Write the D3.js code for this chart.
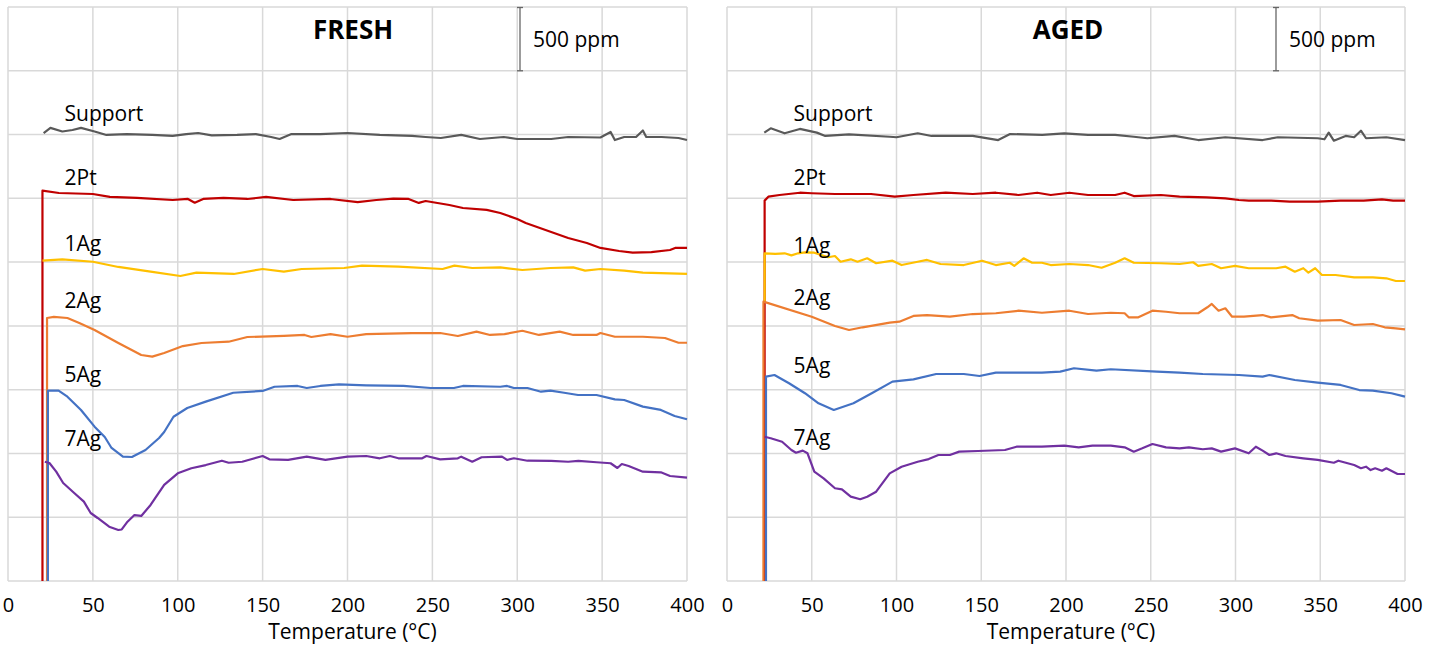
<!DOCTYPE html>
<html><head><meta charset="utf-8">
<script src="https://cdn.jsdelivr.net/npm/d3@7"></script>
<style>body{margin:0;background:#fff;} svg{display:block;font-family:"Open Sans",sans-serif;}</style>
</head><body><svg id="chart" width="1442" height="649"></svg>
<script>
// ---------------- DATA ----------------
const seriesNames = ["Support", "2Pt", "1Ag", "2Ag", "5Ag", "7Ag"];
const seriesColors = ["#595959", "#C00000", "#FFC000", "#ED7D31", "#4472C4", "#7030A0"];
const xTicks = [0, 50, 100, 150, 200, 250, 300, 350, 400];
const yGridStep = 500; // ppm between horizontal gridlines
const yMax = 4500;
const panelTitles = ["FRESH", "AGED"];
const scaleBarLabel = "500 ppm";
const xAxisTitle = "Temperature (°C)";

// FRESH panel: [temperature °C, signal ppm (stacked offset)]
const freshSupport = [[21,3512],[25,3552],[32,3524],[38,3536],[43,3552],[51,3524],[58,3497],[70,3504],[85,3497],[97,3489],[105,3504],[112,3512],[120,3493],[135,3497],[146,3504],[155,3481],[160,3465],[167,3504],[184,3504],[200,3512],[219,3497],[238,3489],[246,3481],[255,3473],[267,3497],[278,3465],[292,3481],[300,3465],[320,3465],[330,3481],[349,3477],[355,3520],[357.5,3457],[363,3481],[370,3481],[374,3532],[376,3481],[385,3481],[395,3473],[400,3457]];
const fresh2Pt = [[20.3,0],[20.3,3060],[30,3042],[50,3034],[60,3011],[76,3003],[97,2987],[106,2995],[110,2966],[115,2995],[127,3003],[141,2995],[152,3011],[168,2987],[190,2995],[206,2971],[217,2987],[227,2997],[236,2995],[242,2964],[246,2979],[260,2948],[268,2924],[282,2909],[290,2885],[300,2838],[305,2807],[320,2736],[330,2689],[341,2650],[349,2611],[360,2587],[368,2574],[379,2579],[390,2595],[393,2611],[400,2611]];
const fresh1Ag = [[20.3,2511],[32,2522],[50,2503],[65,2462],[84,2425],[101.5,2391],[111,2417],[133,2407],[150,2446],[162.5,2425],[173,2446],[198,2454],[208.5,2472],[230,2464],[256,2446],[263,2472],[273.5,2454],[290,2459],[303,2438],[319.6,2454],[333,2459],[340,2433],[349,2446],[363,2433],[374,2417],[400,2407]];
const fresh2Ag = [[23,0],[23,2062],[27,2070],[35,2062],[42,2023],[51,1968],[65,1866],[78.5,1772],[85,1759],[92,1788],[103,1842],[114,1866],[130,1876],[141,1913],[162.5,1921],[174.7,1929],[178.7,1913],[190,1936],[200,1915],[211,1936],[238,1944],[254.6,1944],[265,1921],[276,1955],[284,1929],[292.5,1936],[303,1962],[312.8,1929],[325,1955],[333,1929],[346.7,1929],[349,1944],[357.5,1915],[374,1915],[387,1905],[395,1868],[400,1868]];
const fresh5Ag = [[23.5,0],[23.5,1492],[29.8,1492],[35,1445],[43,1341],[51,1210],[57,1129],[61,1043],[67.7,975],[73,972],[81,1027],[89,1121],[92,1168],[97.5,1288],[105.6,1356],[116.5,1406],[132.7,1476],[150,1490],[157,1523],[170.6,1529],[176,1513],[184,1529],[195,1542],[211,1534],[233,1529],[249,1513],[262.7,1513],[268,1529],[290,1523],[294,1529],[298,1513],[306,1513],[314,1484],[319.6,1492],[327.6,1476],[335.8,1458],[346.7,1458],[357.5,1424],[363,1419],[374,1367],[384.6,1341],[392.7,1294],[400,1268]];
const fresh7Ag = [[21.7,935],[24.4,925],[28.4,857],[32.5,768],[39,690],[44.7,622],[48.7,533],[52.8,494],[59.6,426],[65,400],[67,404],[70.4,465],[74.5,517],[78.5,510],[84,596],[92,753],[100,844],[108,884],[116.5,909],[126,943],[130,927],[138,935],[150,980],[154,954],[165,949],[176,975],[187,949],[200,975],[211,980],[219,962],[225,980],[230,962],[244,962],[246.5,980],[254.6,954],[265,962],[267,975],[273.5,935],[279,970],[291,975],[294,949],[298,962],[306,943],[320,941],[330,935],[336,941],[346.7,931],[355,923],[359,886],[361.6,917],[365.6,902],[374,857],[384.6,852],[390,823],[400,810]];

// AGED panel
const agedSupport = [[22,3515],[25.8,3549],[34,3510],[43,3544],[53,3515],[58,3489],[72,3502],[96,3483],[100,3479],[112.5,3510],[120.7,3489],[145,3489],[160,3457],[167,3504],[186,3497],[199,3510],[213,3497],[229,3497],[240,3483],[248,3471],[264,3489],[278,3457],[294,3479],[316,3457],[325,3479],[348.5,3471],[352.5,3463],[355,3515],[358,3452],[365,3489],[370,3479],[374,3530],[377,3471],[389,3479],[400,3457]];
const aged2Pt = [[22.2,0],[22.2,2982],[24.4,3013],[31,3026],[43,3044],[50,3040],[63.7,3034],[85,3034],[99,3013],[110,3026],[129,3044],[145,3034],[158.6,3044],[172,3026],[183,3044],[191,3026],[202,3044],[213,3026],[229,3026],[234.6,3044],[240,3018],[256,3026],[267,3013],[283,3008],[294,3000],[302,2987],[307.8,2982],[321,2982],[332,2974],[348.5,2974],[362,2982],[375.6,2982],[386.4,2992],[393,2982],[400,2982]];
const aged1Ag = [[22.2,2190],[22.2,2569],[28.5,2564],[34,2569],[38,2553],[42,2569],[46,2577],[51.5,2574],[55.6,2556],[59.7,2538],[63.7,2548],[67,2503],[73,2522],[77,2503],[82.7,2530],[88,2491],[97.6,2511],[103,2477],[112.5,2503],[118,2517],[126,2485],[139.7,2477],[150.5,2511],[158.6,2477],[166.8,2495],[169.5,2470],[175,2530],[180,2495],[185.8,2495],[191,2477],[202,2485],[213,2477],[221,2456],[229,2495],[234.6,2530],[240,2495],[256,2491],[267,2485],[275,2499],[278,2470],[286,2485],[291.5,2452],[299.7,2470],[307.8,2452],[324,2452],[329.5,2464],[335,2425],[340,2452],[343,2417],[347,2452],[351,2399],[359,2399],[370,2381],[381,2381],[389,2373],[394.6,2352],[400,2352]];
const aged2Ag = [[21.5,0],[21.5,2190],[50,2072],[63.7,1999],[72,1968],[80,1989],[96,2025],[101.7,2033],[110,2078],[118,2085],[131.5,2072],[145,2093],[158.6,2099],[172,2119],[185.8,2103],[202,2119],[213,2093],[226.4,2103],[234.6,2099],[237,2067],[242.7,2067],[251,2119],[259,2111],[267,2099],[278,2099],[283.4,2146],[286,2172],[290,2119],[294,2138],[298,2072],[305,2072],[316,2085],[321,2067],[333.5,2085],[337.6,2060],[348.5,2041],[362,2046],[370,2007],[381,2015],[388,1989],[394.6,1981],[400,1973]];
const aged5Ag = [[23,0],[23,1602],[28,1615],[36.6,1550],[46,1472],[54,1393],[63,1341],[74.6,1393],[85.4,1472],[97.6,1563],[110,1581],[123.4,1623],[139.7,1623],[149,1607],[158.6,1633],[185.8,1633],[196.6,1641],[204.7,1668],[218,1649],[226.4,1660],[253.6,1641],[267,1633],[280.7,1623],[302,1615],[316,1602],[320,1615],[335,1576],[348.5,1555],[362,1537],[373,1497],[381,1492],[392,1472],[400,1445]];
const aged7Ag = [[22.2,1131],[25.8,1119],[32.5,1092],[38,1027],[40.7,1006],[44.7,1022],[47.5,1001],[51.5,857],[57,805],[63.7,727],[67.8,719],[73,661],[78.6,641],[82.7,661],[88,700],[96,844],[103,896],[112.5,935],[119,956],[124.7,988],[131.5,988],[137,1014],[148,1019],[164,1027],[170.8,1053],[185.8,1053],[199,1061],[207.5,1048],[215.6,1061],[226.4,1061],[234.6,1048],[240,1014],[245,1040],[251,1074],[259,1048],[267,1040],[272.5,1048],[280.7,1033],[286,1040],[291.5,1014],[299.7,1040],[307.8,1001],[312,1053],[316,1022],[320,988],[324,1001],[329.5,980],[340,962],[348.5,949],[358,927],[360.7,943],[370,909],[374,884],[377,896],[379.7,870],[382.4,884],[386.4,865],[389,884],[395.6,839],[400,839]];

const freshSeries = [freshSupport, fresh2Pt, fresh1Ag, fresh2Ag, fresh5Ag, fresh7Ag];
const agedSeries = [agedSupport, aged2Pt, aged1Ag, aged2Ag, aged5Ag, aged7Ag];

// ---------------- LAYOUT ----------------
const layout = {
  yTop: 7, yBottom: 581,
  panels: [
    {x0: 8, x1: 687, barX: 520, titleX: 353, labelT: 33.3, labelY: [113, 177, 243, 300, 374, 438]},
    {x0: 727, x1: 1405, barX: 1276, titleX: 1068, labelT: 39.3, labelY: [113, 177, 245, 297, 365, 437]}
  ]
};

const svg = d3.select("#chart");
const panelData = [freshSeries, agedSeries];

layout.panels.forEach((p, pi) => {
  const x = d3.scaleLinear().domain([0, 400]).range([p.x0, p.x1]);
  const y = d3.scaleLinear().domain([0, yMax]).range([layout.yBottom, layout.yTop]);
  const g = svg.append("g");

  // gridlines
  const yTicks = d3.range(0, yMax + 1, yGridStep);
  g.append("g").selectAll("line.h").data(yTicks).join("line")
    .attr("x1", p.x0).attr("x2", p.x1)
    .attr("y1", d => y(d)).attr("y2", d => y(d))
    .attr("stroke", "#d9d9d9").attr("stroke-width", 1.5);
  g.append("g").selectAll("line.v").data(xTicks).join("line")
    .attr("x1", d => x(d)).attr("x2", d => x(d))
    .attr("y1", layout.yTop).attr("y2", layout.yBottom)
    .attr("stroke", "#d9d9d9").attr("stroke-width", 1.5);

  // x axis labels
  const axis = d3.axisBottom(x).tickValues(xTicks).tickSize(0).tickPadding(17);
  const ax = g.append("g").attr("transform", `translate(0,${layout.yBottom})`).call(axis);
  ax.select(".domain").remove();
  ax.selectAll("text").attr("font-size", 20).attr("fill", "#000").attr("font-family", '"Open Sans",sans-serif');

  g.append("text").attr("x", (p.x0 + p.x1) / 2 + 5).attr("y", 639)
    .attr("text-anchor", "middle").attr("font-size", 21).attr("fill", "#000")
    .text(xAxisTitle);

  // title
  g.append("text").attr("x", p.titleX).attr("y", 39)
    .attr("text-anchor", "middle").attr("font-size", 26).attr("font-weight", "bold")
    .attr("fill", "#000").text(panelTitles[pi]);

  // scale bar (500 ppm = one grid step)
  const by0 = y(yMax), by1 = y(yMax - yGridStep);
  const bar = g.append("g").attr("stroke", "#666").attr("stroke-width", 1.3);
  bar.append("line").attr("x1", p.barX).attr("x2", p.barX).attr("y1", by0).attr("y2", by1);
  bar.append("line").attr("x1", p.barX - 3).attr("x2", p.barX + 3).attr("y1", by0 + 0.5).attr("y2", by0 + 0.5);
  bar.append("line").attr("x1", p.barX - 3).attr("x2", p.barX + 3).attr("y1", by1).attr("y2", by1);
  g.append("text").attr("x", p.barX + 13).attr("y", (by0 + by1) / 2 + 8)
    .attr("font-size", 21).attr("fill", "#000").text(scaleBarLabel);

  // lines
  const line = d3.line().x(d => x(d[0])).y(d => y(d[1])).curve(d3.curveLinear);
  panelData[pi].forEach((s, si) => {
    g.append("path").datum(s).attr("d", line)
      .attr("fill", "none").attr("stroke", seriesColors[si])
      .attr("stroke-width", 2.2).attr("stroke-linejoin", "round");
  });

  // series labels
  seriesNames.forEach((n, si) => {
    g.append("text").attr("x", x(p.labelT)).attr("y", p.labelY[si] + 8)
      .attr("font-size", 21).attr("fill", "#000").text(n);
  });
});
</script></body></html>
